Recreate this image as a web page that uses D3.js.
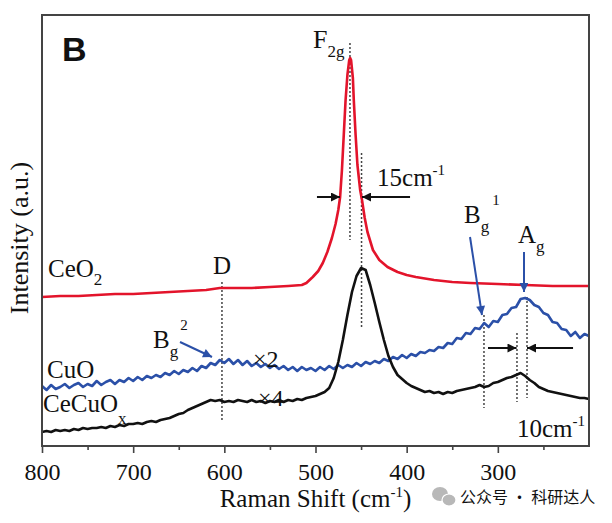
<!DOCTYPE html>
<html><head><meta charset="utf-8">
<script src="https://cdn.jsdelivr.net/npm/d3@7"></script>
<style>
html,body{margin:0;padding:0;background:#fff;}
svg text{font-family:"Liberation Serif","Times New Roman",serif;fill:#111;}
</style></head>
<body><svg id="c" width="612" height="523" font-family="Liberation Serif, serif"></svg>
<script>
// ---------- data (Raman shift in cm^-1, intensity in a.u.) ----------
const gridShift = d3.range(800, 199, -5);
const cuoIntensity = [60,56,61,57,59,62,58,61,63,59,62,60,65,61,64,66,62,66,64,68,65,69,66,70,68,71,69,73,71,75,72,76,74,78,75,80,78,83,81,86,83,87,82,86,81,85,80,83,79,82,78,81,77,80,76,79,75,79,76,78,75,79,76,80,77,81,78,81,79,83,80,84,82,85,83,87,85,89,87,91,88,92,90,94,93,96,95,99,98,103,102,108,107,113,112,118,117,123,119,125,124,131,132,138,139,147,148,146,141,139,133,131,124,123,117,116,110,114,108,112,110];
const cecuoxIntensity = [14,15,14,16,15,16,15,17,16,18,17,18,18,19,18,20,19,21,20,22,22,23,22,24,25,24,26,27,28,30,32,33,36,38,40,42,44,46,45,46,44,45,44,46,45,44,46,44,45,43,45,44,46,44,46,45,47,46,48,49,50,52,54,58,68,84,106,131,154,170,178,176,161,143,124,106,90,79,71,67,63,60,58,56,54,55,53,54,52,54,53,55,56,57,58,59,61,59,60,63,64,66,68,69,71,73,70,66,63,59,57,55,54,53,52,51,50,49,48,48,47];
const ceo2Shift = [800,780,760,740,720,700,680,660,640,620,605,590,570,550,530,515,510,503,497,492,487,482,478,475,473,471,469,467,465,463,462,461,459,458,456,454,451,449,446,443,437,430,421,410,400,390,370,350,330,300,270,240,200];
const ceo2Intensity = [149,150,150,151,152,152,153,154,155,156,158,158,158,159,160,161,163,169,175,183,194,208,222,236,249,276,311,346,371,386,388,386,368,346,311,281,256,246,228,214,196,186,179,174,171,169,166,164,163,162,161,160,160];
const xTicks = [800,700,600,500,400,300];
const xMinorTicks = [750,650,550,450,350,250];

// ---------- annotations (in data units) ----------
const dottedLines = [
  {s:462.2, i0:403, i1:206}, {s:449.5, i0:293, i1:119}, {s:602.6, i0:164, i1:25},
  {s:315.2, i0:131, i1:38}, {s:279, i0:113, i1:44}, {s:268, i0:149, i1:48}
];
const blackArrows = [
  {s0:498.4, s1:473.1, i:249}, {s0:396.3, s1:449, i:249},
  {s0:310.8, s1:279.5, i:98}, {s0:217.5, s1:268, i:98}
];
const blueArrows = [
  {s0:648.6, i0:104, s1:613.5, i1:89},
  {s0:330.5, i0:209, s1:317.4, i1:131},
  {s0:271.3, i0:194, s1:271.3, i1:154}
];

// ---------- layout ----------
const svg = d3.select("#c");
const L = 42, R = 589, T = 15, B = 446;
const x = d3.scaleLinear().domain([800, 200]).range([L, R]);
const y = d3.scaleLinear().domain([0, 431]).range([B, T]);

const defs = svg.append("defs");
function marker(id, color, w, h){
  defs.append("marker").attr("id", id).attr("viewBox","0 0 10 10").attr("refX",10).attr("refY",5)
    .attr("markerWidth", w).attr("markerHeight", h).attr("markerUnits","userSpaceOnUse").attr("orient","auto")
    .append("path").attr("d","M0,0 L10,5 L0,10 Z").attr("fill", color);
}
marker("ak","#111",12,9);
marker("ab","#2b50a8",11,9);

// dotted guide lines
svg.append("g").selectAll("line").data(dottedLines).join("line")
  .attr("x1", d=>x(d.s)).attr("x2", d=>x(d.s)).attr("y1", d=>y(d.i0)).attr("y2", d=>y(d.i1))
  .attr("stroke","#444").attr("stroke-width",1.5).attr("stroke-dasharray","2,2");

// spectra
const line = d3.line().x(d=>x(d[0])).y(d=>y(d[1]));
const series = [
  {pts: d3.zip(ceo2Shift, ceo2Intensity), color:"#e3142b"},
  {pts: d3.zip(gridShift, cuoIntensity), color:"#2b50a8"},
  {pts: d3.zip(gridShift, cecuoxIntensity), color:"#111"}
];
svg.append("g").selectAll("path").data(series).join("path")
  .attr("d", d=>line(d.pts)).attr("fill","none").attr("stroke", d=>d.color)
  .attr("stroke-width",2.6).attr("stroke-linejoin","round");

// arrows
svg.append("g").selectAll("line").data(blackArrows).join("line")
  .attr("x1", d=>x(d.s0)).attr("x2", d=>x(d.s1)).attr("y1", d=>y(d.i)).attr("y2", d=>y(d.i))
  .attr("stroke","#111").attr("stroke-width",2).attr("marker-end","url(#ak)");
svg.append("g").selectAll("line").data(blueArrows).join("line")
  .attr("x1", d=>x(d.s0)).attr("x2", d=>x(d.s1)).attr("y1", d=>y(d.i0)).attr("y2", d=>y(d.i1))
  .attr("stroke","#2b50a8").attr("stroke-width",2).attr("marker-end","url(#ab)");

// frame
svg.append("rect").attr("x",L).attr("y",T).attr("width",R-L).attr("height",B-T)
  .attr("fill","none").attr("stroke","#444").attr("stroke-width",2);

// x axis
const ax = svg.append("g").attr("transform",`translate(0,${B})`)
  .call(d3.axisBottom(x).tickValues(xTicks).tickSize(7).tickFormat(d3.format("d")));
ax.attr("font-family","Liberation Serif, serif");
ax.select(".domain").remove();
ax.selectAll("line").attr("stroke","#444").attr("stroke-width",1.6);
ax.selectAll("text").attr("font-size",24).attr("dy","1em").attr("fill","#111")
  .style("font-family","'Liberation Serif',serif");
const axm = svg.append("g").attr("transform",`translate(0,${B})`)
  .call(d3.axisBottom(x).tickValues(xMinorTicks).tickSize(4).tickFormat(""));
axm.select(".domain").remove();
axm.selectAll("line").attr("stroke","#444").attr("stroke-width",1.6);

// text helper
function rich(px, py, parts, size){
  const t = svg.append("text").attr("x",px).attr("y",py).attr("font-size",size);
  parts.forEach(p=>{
    const s = t.append("tspan").text(p.t);
    if(p.fs) s.attr("font-size",p.fs);
    if(p.dy) s.attr("dy",p.dy);
    if(p.dx) s.attr("dx",p.dx);
  });
  return t;
}

// axis titles
rich((L+R)/2, 507, [{t:"Raman Shift (cm"},{t:"-1",fs:15,dy:-10},{t:")",dy:10}], 25).attr("text-anchor","middle");
svg.append("text").attr("transform","translate(28,238) rotate(-90)").attr("text-anchor","middle")
  .attr("font-size",26).text("Intensity (a.u.)");

// panel label
svg.append("text").attr("x",62).attr("y",61).attr("font-size",34).attr("font-weight","bold")
  .style("font-family","'Liberation Sans',Arial,sans-serif").text("B");

// labels
rich(x(793.4), y(169), [{t:"CeO"},{t:"2",fs:17,dy:8}], 25);
rich(x(612.4), y(172), [{t:"D"}], 25);
rich(x(502.7), y(398), [{t:"F"},{t:"2g",fs:17,dy:9}], 26);
rich(x(432.5), y(260), [{t:"15cm"},{t:"-1",fs:15,dy:-11}], 25);
rich(x(337.1), y(223), [{t:"B"},{t:"g",fs:17,dy:9},{t:"1",fs:15,dy:-27,dx:3}], 25);
rich(x(277.9), y(203), [{t:"A"},{t:"g",fs:17,dy:9}], 25);
rich(x(678.2), y(98), [{t:"B"},{t:"g",fs:17,dy:9},{t:"2",fs:15,dy:-27,dx:2}], 25);
rich(x(794.5), y(68), [{t:"CuO"}], 25);
rich(x(568.6), y(79), [{t:"×2"}], 24);
rich(x(798.9), y(34), [{t:"CeCuO"},{t:"x",fs:17,dy:12}], 25);
rich(x(563.1), y(40), [{t:"×4"}], 24);
rich(x(279), y(9), [{t:"10cm"},{t:"-1",fs:15,dy:-11}], 25);

// watermark
const wm = svg.append("g").attr("fill","#b8b8b8");
wm.append("ellipse").attr("cx",440).attr("cy",494).attr("rx",8).attr("ry",7);
wm.append("ellipse").attr("cx",449).attr("cy",500).attr("rx",7).attr("ry",6).attr("stroke","#fff").attr("stroke-width",1.2);
svg.append("text").attr("x",460).attr("y",503).attr("font-size",16).attr("fill","#aaa")
  .style("font-family","'Noto Sans CJK SC',sans-serif").text("公众号 · 科研达人");
</script></body></html>
